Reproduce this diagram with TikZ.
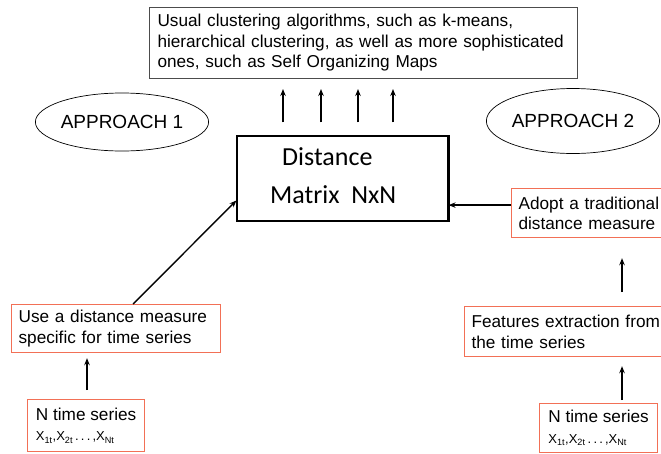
\documentclass[tikz,border=0pt]{standalone}
\usepackage{fontspec}
\setmainfont{Liberation Sans}
\newfontfamily\matrixfont{Carlito}
\usetikzlibrary{shapes.geometric,arrows.meta}

\definecolor{boxred}{RGB}{242,112,86}
\newcommand{\txtsize}{\fontsize{17.2}{20.5}\selectfont}
\newcommand{\subsize}{\fontsize{13}{15}\selectfont}
\newcommand{\series}{{\subsize X\textsubscript{1t},X\textsubscript{2t}\,.\,.\,.\,,X\textsubscript{Nt}}}

\tikzset{
  redbox/.style={draw=boxred, line width=1.2pt, anchor=north west, align=left, inner xsep=7pt, font=\txtsize},
  oval/.style={draw, ellipse, line width=0.7pt, inner sep=0pt, font=\fontsize{19}{22}\selectfont},
  up/.style={-{Stealth[length=7pt,width=5.5pt]}, line width=1.4pt},
}

\begin{document}
\begin{tikzpicture}[x=1pt,y=-1pt]
\clip (0,0) rectangle (661,453);

% clustering step on top
\node[draw=black!70, line width=1pt, anchor=north west, align=left, inner xsep=8pt,
      text width=412pt, minimum height=71pt, font=\txtsize] (algo) at (149,7)
  {Usual clustering algorithms, such as k-means,\\hierarchical clustering, as well as more sophisticated\\ones, such as Self Organizing Maps};

% the distance matrix
\node[draw, line width=1.2pt, minimum width=211pt, minimum height=85pt] (dm) at (342.5,178.5) {};
\draw[line width=2.6pt] (dm.north east) -- (dm.south east);
\node[anchor=west, align=left, inner sep=0pt, font=\matrixfont\fontsize{26}{38}\selectfont] (dmtext) at (270,176)
  {\hspace*{12pt}Distance\\Matrix~~NxN};

\node[oval, minimum width=165pt, minimum height=58pt] (app1) at (122,122) {APPROACH 1};
\node[oval, minimum width=165pt, minimum height=65pt] (app2) at (573,121) {APPROACH 2};

% approach 1
\node[redbox, text width=195pt, minimum height=48pt] (usebox) at (11,304) {Use a distance measure\\specific for time series};
\node[redbox, minimum width=117pt, minimum height=52pt] (seriesL) at (27,399) {N time series\\ \series};

% approach 2
\node[redbox, text width=170pt, minimum height=49pt] (adopt) at (511,188) {Adopt a traditional\\distance measure};
\node[redbox, text width=210pt, minimum height=50pt] (feat) at (464,306) {Features extraction from\\the time series};
\node[redbox, minimum width=118pt, minimum height=49pt] (seriesR) at (539,403) {N time series\\ \series};

% arrows
\foreach \x in {283,321,358,393}
  \draw[up, shorten <=13pt, shorten >=10pt] (dm.north -| \x,0) -- (algo.south -| \x,0);

\draw[up] ([xshift=17pt]usebox.north) -- ([yshift=-22pt]dm.west);
\draw[up, shorten <=9pt, shorten >=5pt] (seriesL.north -| 87,0) -- (usebox.south -| 87,0);

\draw[up] ([yshift=8pt]adopt.west) -- ([yshift=8pt]adopt.west -| dm.east);
\draw[up, shorten <=14pt, shorten >=20pt] (feat.north -| 622,0) -- (adopt.south -| 622,0);
\draw[up, shorten <=3pt, shorten >=9pt] (seriesR.north -| 622,0) -- (feat.south -| 622,0);
\end{tikzpicture}
\end{document}
